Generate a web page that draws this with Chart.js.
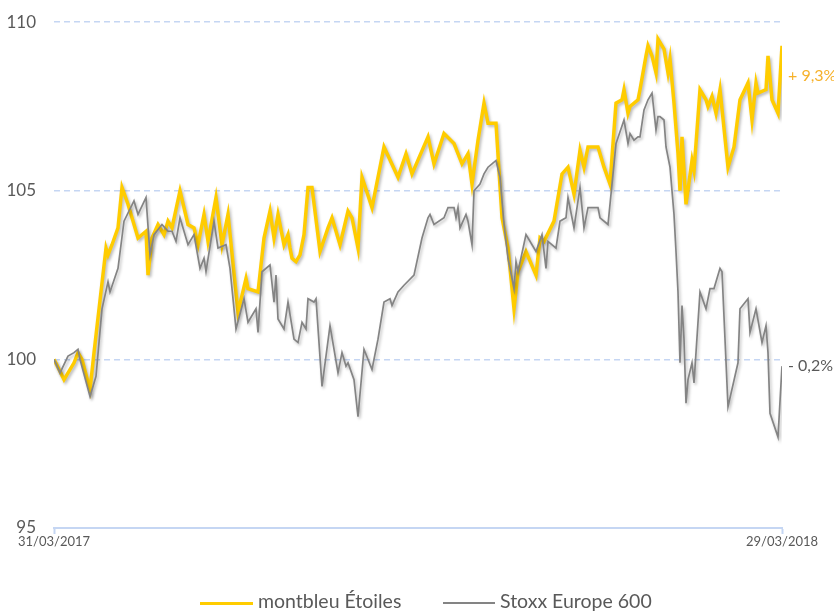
<!DOCTYPE html>
<html>
<head>
<meta charset="utf-8">
<script src="https://cdn.jsdelivr.net/npm/chart.js@4/dist/chart.umd.min.js"></script>
<style>
    body { margin: 0; background: #fff; }
    #wrap { position: relative; width: 834px; height: 611px; overflow: hidden; }
    #chart { position: absolute; left: 0; top: -6px; }
    #legend { position: absolute; top: 589px; left: 0; width: 834px; font-family: Lato, "Open Sans", sans-serif; font-size: 19.5px; color: #595959; }
    .item { position: absolute; top: 0; white-space: nowrap; }
    .swatch { display: inline-block; vertical-align: middle; margin-right: 5px; }
</style>
</head>
<body>
<div id="wrap">
    <canvas id="chart" width="834" height="611"></canvas>
    <div id="legend"></div>
</div>
<script>
// données (x = jours depuis le 31/03/2017)
const seriesNames = ['montbleu Étoiles', 'Stoxx Europe 600'];
const endLabels = ['+ 9,3%', '- 0,2%'];
const endLabelLevels = [108.4, 99.8];
const dateLabels = ['31/03/2017', '29/03/2018'];
const yTicks = [95, 100, 105, 110];

const montbleuDays = [0, 5, 10, 12, 14, 18, 20, 26, 27, 29, 32, 34, 37, 42, 46, 47, 49, 52, 55, 57, 59, 63, 67, 70, 72, 75, 77, 81, 84, 87,
    92, 94, 96, 97, 102, 105, 108, 110, 112, 115, 117, 118, 119, 121, 123, 125, 127, 129, 133, 137, 139, 143, 147, 149, 152, 154, 159, 165, 172, 176,
    179, 187, 190, 195, 200, 204, 207, 209, 212, 215, 217, 221, 224, 227, 230, 232, 236, 241, 243, 245, 250, 254, 257, 260, 263, 265, 267, 272, 275, 278,
    281, 284, 285, 287, 288, 292, 293, 296, 297, 299, 301, 302, 305, 307, 308, 310, 312, 313, 314, 316, 319, 320, 323, 326, 327, 329, 331, 333, 337, 340,
    343, 347, 349, 351, 352, 356, 357, 359, 362, 363, 364];
const montbleuValues = [100.0, 99.4, 99.9, 100.2, 100.0, 99.1, 100.2, 103.3, 103.1, 103.4, 103.9, 105.1, 104.6, 103.6, 103.8, 102.5, 103.6, 104.0, 103.7, 104.1, 103.9, 105.0, 104.0, 103.9, 103.4, 104.3, 103.5, 104.8, 103.4, 104.3,
    101.4, 101.9, 102.4, 102.1, 102.0, 103.6, 104.4, 103.6, 104.3, 103.4, 103.7, 103.3, 103.0, 102.9, 103.1, 103.7, 105.1, 105.1, 103.2, 103.9, 104.2, 103.4, 104.4, 104.2, 103.3, 105.4, 104.5, 106.3, 105.4, 106.1,
    105.5, 106.6, 105.8, 106.7, 106.4, 105.8, 106.1, 105.2, 106.5, 107.6, 107.0, 107.0, 104.2, 103.3, 101.5, 102.6, 103.2, 102.5, 103.6, 103.5, 104.1, 105.5, 105.7, 104.9, 106.2, 105.7, 106.3, 106.3, 105.7, 105.2,
    107.6, 107.7, 108.0, 107.3, 107.5, 107.7, 108.0, 109.0, 109.3, 109.0, 108.5, 109.5, 109.2, 108.5, 108.9, 107.6, 106.1, 105.0, 106.6, 104.6, 105.9, 105.6, 108.0, 107.7, 107.5, 107.8, 107.3, 108.0, 105.7, 106.3,
    107.7, 108.2, 107.1, 108.2, 107.9, 108.0, 109.0, 107.7, 107.3, 108.3, 109.3];

const stoxxDays = [0, 3, 7, 10, 12, 13, 18, 21, 24, 27, 28, 32, 35, 40, 42, 46, 48, 50, 54, 57, 59, 61, 63, 67, 70, 73, 75, 76, 80, 82,
    86, 88, 91, 95, 97, 101, 102, 104, 108, 110, 111, 112, 115, 117, 120, 122, 124, 126, 127, 130, 131, 134, 138, 142, 144, 146, 147, 150, 152, 155,
    159, 162, 165, 168, 169, 172, 175, 180, 184, 187, 188, 190, 195, 197, 200, 201, 202, 203, 206, 207, 209, 210, 213, 215, 217, 219, 221, 223, 225, 227,
    230, 231, 232, 236, 241, 244, 246, 247, 251, 253, 256, 257, 260, 263, 265, 267, 272, 273, 277, 281, 285, 287, 288, 290, 292, 293, 295, 297, 299, 301,
    302, 303, 305, 306, 308, 310, 311, 312, 313, 314, 315, 316, 317, 319, 320, 323, 326, 328, 330, 333, 334, 337, 342, 343, 347, 348, 351, 354, 356, 357,
    358, 362, 364];
const stoxxValues = [100.0, 99.6, 100.1, 100.2, 100.3, 100.0, 98.9, 99.5, 101.5, 102.3, 102.0, 102.7, 104.1, 104.7, 104.3, 104.8, 103.1, 103.7, 104.0, 103.8, 103.8, 103.5, 104.2, 103.4, 103.7, 102.7, 103.0, 102.6, 104.1, 103.3,
    103.4, 102.7, 100.9, 101.8, 101.1, 101.5, 100.8, 102.6, 102.8, 101.7, 102.5, 101.2, 100.9, 101.7, 100.6, 100.5, 101.1, 100.9, 101.8, 101.7, 101.8, 99.2, 101.0, 99.6, 100.2, 99.8, 99.9, 99.4, 98.3, 100.3,
    99.7, 100.6, 101.7, 101.8, 101.6, 102.0, 102.2, 102.5, 103.6, 104.2, 104.3, 104.0, 104.2, 104.5, 104.5, 104.2, 104.5, 103.9, 104.3, 104.1, 103.4, 105.0, 105.2, 105.5, 105.7, 105.8, 105.9, 105.4, 104.0, 103.0,
    102.1, 102.9, 102.6, 103.7, 103.2, 103.7, 102.7, 103.5, 103.3, 104.1, 104.2, 104.8, 103.9, 105.1, 103.9, 104.5, 104.5, 104.2, 104.0, 106.4, 107.1, 106.4, 106.7, 106.5, 106.6, 106.6, 107.4, 107.7, 107.9, 106.8,
    107.2, 107.2, 107.1, 106.3, 105.7, 104.3, 103.2, 102.0, 99.9, 101.6, 100.6, 98.7, 99.4, 99.9, 99.3, 102.0, 101.5, 102.1, 102.1, 102.7, 102.6, 98.6, 99.9, 101.5, 101.8, 100.8, 101.5, 100.5, 101.0, 100.2,
    98.4, 97.7, 99.8];

const colors = ['#ffcc00', '#848484'];
const labelColors = ['#f6b12a', '#595959'];
const gridBlue = '#c5d6f3';
const lastDay = 364;

function toPoints(days, values) {
    return days.map((d, i) => ({ x: d, y: values[i] }));
}

// ombre légère sous les courbes
const shadowPlugin = {
    id: 'shadow',
    beforeDatasetDraw(chart) {
        const ctx = chart.ctx;
        ctx.save();
        ctx.shadowColor = 'rgba(0,0,0,0.28)';
        ctx.shadowBlur = 3;
        ctx.shadowOffsetX = 1.5;
        ctx.shadowOffsetY = 2;
    },
    afterDatasetDraw(chart) {
        chart.ctx.restore();
    }
};

// étiquettes de performance à droite
const endLabelPlugin = {
    id: 'endLabels',
    afterDraw(chart) {
        const ctx = chart.ctx;
        const yScale = chart.scales.y;
        ctx.save();
        ctx.font = '16px Lato, "Open Sans", sans-serif';
        ctx.textAlign = 'left';
        ctx.textBaseline = 'middle';
        endLabels.forEach((txt, i) => {
            ctx.fillStyle = labelColors[i];
            ctx.fillText(txt, chart.chartArea.right + 6, yScale.getPixelForValue(endLabelLevels[i]));
        });
        ctx.restore();
    }
};

const ctx = document.getElementById('chart').getContext('2d');
new Chart(ctx, {
    type: 'line',
    data: {
        datasets: [
            {
                label: seriesNames[0],
                data: toPoints(montbleuDays, montbleuValues),
                borderColor: colors[0],
                borderWidth: 3.5,
                pointRadius: 0,
                tension: 0,
                order: 1
            },
            {
                label: seriesNames[1],
                data: toPoints(stoxxDays, stoxxValues),
                borderColor: colors[1],
                borderWidth: 1.7,
                pointRadius: 0,
                tension: 0,
                order: 0
            }
        ]
    },
    options: {
        responsive: false,
        animation: false,
        layout: { padding: { left: 0, right: 52, top: 15, bottom: 47 } },
        plugins: {
            legend: { display: false },
            tooltip: { enabled: false }
        },
        scales: {
            x: {
                type: 'linear',
                min: 0,
                max: lastDay,
                afterBuildTicks: scale => {
                    scale.ticks = [{ value: 0 }, { value: lastDay }];
                },
                afterFit: scale => { scale.height = 30; },
                ticks: {
                    autoSkip: false,
                    maxRotation: 0,
                    padding: 0,
                    color: '#595959',
                    font: { family: 'Lato, "Open Sans", sans-serif', size: 13 },
                    callback: (value) => value === 0 ? dateLabels[0] : dateLabels[1]
                },
                grid: {
                    drawOnChartArea: false,
                    drawTicks: true,
                    tickLength: 6,
                    tickColor: gridBlue,
                    tickWidth: 2
                },
                border: { display: true, color: gridBlue, width: 2 }
            },
            y: {
                min: 95,
                max: 110,
                afterBuildTicks: scale => {
                    scale.ticks = yTicks.map(v => ({ value: v }));
                },
                afterFit: scale => { scale.width = 54; },
                ticks: {
                    padding: 18,
                    color: '#595959',
                    font: { family: 'Lato, "Open Sans", sans-serif', size: 17 }
                },
                grid: {
                    drawTicks: false,
                    lineWidth: 1.5,
                    color: c => (c.tick && c.tick.value === 95) ? 'rgba(0,0,0,0)' : gridBlue
                },
                border: { display: false, dash: [6, 4] }
            }
        }
    },
    plugins: [shadowPlugin, endLabelPlugin]
});

// légende
const legend = document.getElementById('legend');
const legendPos = [200, 443];
const swatchWidths = [53, 52];
const swatchHeights = [3, 1.5];
seriesNames.forEach((name, i) => {
    const item = document.createElement('div');
    item.className = 'item';
    item.style.left = legendPos[i] + 'px';
    item.innerHTML = `<span class="swatch" style="width:${swatchWidths[i]}px;height:${swatchHeights[i]}px;background:${colors[i]}"></span>${name}`;
    legend.appendChild(item);
});
</script>
</body>
</html>
